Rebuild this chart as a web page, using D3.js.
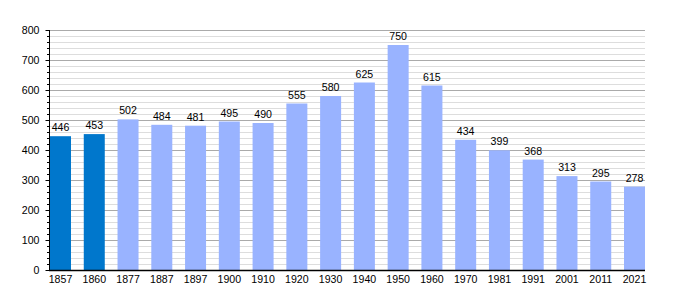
<!DOCTYPE html>
<html><head><meta charset="utf-8">
<script src="https://cdn.jsdelivr.net/npm/d3@7"></script>
<style>body{margin:0;background:#fff}svg{display:block}svg text{font-family:"Liberation Sans",Arial,sans-serif}</style>
</head><body><svg id="c" width="675" height="300"></svg>
<script>
const years = ["1857","1860","1877","1887","1897","1900","1910","1920","1930","1940","1950","1960","1970","1981","1991","2001","2011","2021"];
const population = [446,453,502,484,481,495,490,555,580,625,750,615,434,399,368,313,295,278];
const highlighted = ["1857","1860"];
const yTicks = [0,100,200,300,400,500,600,700,800];

const svg = d3.select("#c");
const FONT = "Liberation Sans, Arial, sans-serif";
const FS = 10.6;
const mLeft = 49, mRight = 645, mTop = 30, mBottom = 270;
const x = d3.scaleBand().domain(years).range([50, 645]).paddingInner(0.378).paddingOuter(0);
const y = d3.scaleLinear().domain([0, 800]).range([mBottom, mTop]);

const minor = d3.range(0, 801, 20).filter(v => v % 100 !== 0);
svg.append("g").selectAll("line").data(minor).join("line")
  .attr("x1", mLeft).attr("x2", mRight)
  .attr("y1", d => Math.round(y(d)) + 0.5).attr("y2", d => Math.round(y(d)) + 0.5)
  .attr("stroke", "#dddddd").attr("stroke-width", 1);
svg.append("g").selectAll("line").data(yTicks.filter(v => v > 0)).join("line")
  .attr("x1", mLeft).attr("x2", mRight)
  .attr("y1", d => Math.round(y(d)) + 0.5).attr("y2", d => Math.round(y(d)) + 0.5)
  .attr("stroke", "#aaaaaa").attr("stroke-width", 1);

svg.append("g").selectAll("rect").data(years).join("rect")
  .attr("x", d => x(d)).attr("width", x.bandwidth())
  .attr("y", (d, i) => y(population[i])).attr("height", (d, i) => y(0) - y(population[i]))
  .attr("fill", d => highlighted.includes(d) ? "#0077cc" : "#99b3ff");

svg.append("g").selectAll("text").data(years).join("text")
  .attr("x", d => x(d) + x.bandwidth() / 2)
  .attr("y", (d, i) => y(population[i]) - 5)
  .attr("text-anchor", "middle").attr("font-size", FS).attr("font-family", FONT).attr("fill", "#000")
  .text((d, i) => population[i]);

// y axis
const ya = svg.append("g").attr("transform", `translate(${mLeft + 0.5},0)`)
  .call(d3.axisLeft(y).tickValues(yTicks).tickSize(4).tickPadding(6).tickFormat(d3.format("d")));
ya.attr("font-family", FONT).attr("font-size", FS);
ya.select(".domain").remove();
ya.selectAll("text").attr("fill", "#000");
ya.selectAll("line").attr("stroke", "#000");
svg.append("g").selectAll("line").data(minor).join("line")
  .attr("x1", mLeft - 2).attr("x2", mLeft)
  .attr("y1", d => Math.round(y(d)) + 0.5).attr("y2", d => Math.round(y(d)) + 0.5)
  .attr("stroke", "#000");
svg.append("line").attr("x1", mLeft + 0.5).attr("x2", mLeft + 0.5).attr("y1", mTop).attr("y2", mBottom + 0.5).attr("stroke", "#000");

// x axis
const xa = svg.append("g").attr("transform", `translate(0,${mBottom})`)
  .call(d3.axisBottom(x).tickSize(0).tickPadding(5));
xa.attr("font-family", FONT).attr("font-size", FS);
xa.select(".domain").remove();
xa.selectAll("text").attr("fill", "#000");
svg.append("line").attr("x1", mLeft).attr("x2", mRight).attr("y1", mBottom + 0.5).attr("y2", mBottom + 0.5).attr("stroke", "#000").attr("stroke-width", 1.5);
</script></body></html>
